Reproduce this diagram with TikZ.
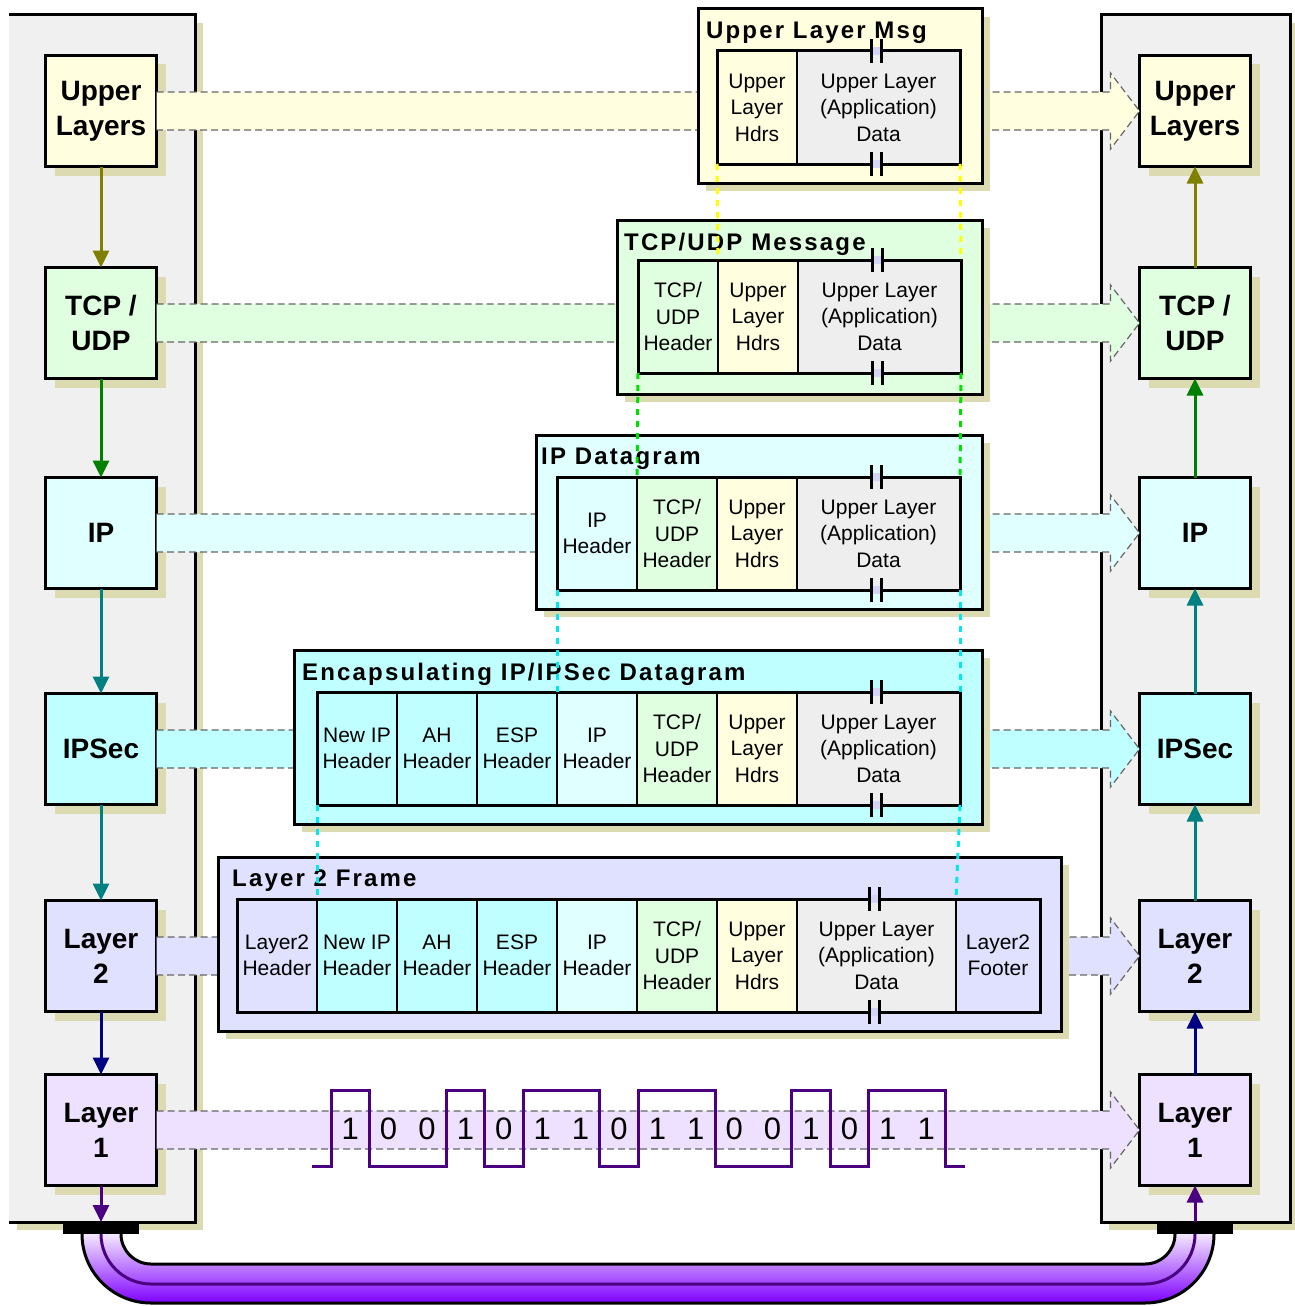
\documentclass[tikz,border=0pt]{standalone}
\usepackage{fontspec}
\setmainfont{Liberation Sans}
\newfontfamily\titlefont{Liberation Sans}[LetterSpace=9]
\usetikzlibrary{shapes,arrows,arrows.meta,shadows,calc}
\usetikzlibrary{positioning}
\definecolor{upc}{HTML}{FFFFE0}
\definecolor{tcpc}{HTML}{E0FFE0}
\definecolor{ipc}{HTML}{E0FFFF}
\definecolor{secc}{HTML}{C0FFFF}
\definecolor{ltwoc}{HTML}{E0E0FF}
\definecolor{lonec}{HTML}{EEE0FF}
\definecolor{datac}{HTML}{EEEEEE}
\definecolor{panelc}{HTML}{F0F0F0}
\definecolor{shadowc}{HTML}{DCDAB0}
\definecolor{olivec}{HTML}{808000}
\definecolor{greenc}{HTML}{008000}
\definecolor{tealc}{HTML}{008080}
\definecolor{navyc}{HTML}{000080}
\definecolor{indigoc}{HTML}{4B0082}
\definecolor{brkc}{HTML}{D4D4F4}
\definecolor{ldgreen}{HTML}{00E000}
\definecolor{ldcyan}{HTML}{00E8F0}
\definecolor{ldyellow}{HTML}{FFFF00}
\definecolor{cabtop}{HTML}{F4E8FF}
\definecolor{cabmid}{HTML}{A040FF}
\definecolor{cabbot}{HTML}{7F00FF}
\tikzstyle{layer}=[draw, line width=3pt, outer sep=0pt, inner sep=0pt,
minimum width=111, minimum height=111, align=center,
font=\bfseries\fontsize{28}{35}\selectfont,
drop shadow={shadow xshift=9pt, shadow yshift=-9pt, fill=shadowc, opacity=1}]
\tikzstyle{pdu}=[draw, line width=3pt, outer sep=0pt, anchor=north west,
minimum height=174,
drop shadow={shadow xshift=8pt, shadow yshift=-8pt, fill=shadowc, opacity=1}]
\tikzstyle{pdutitle}=[anchor=west, inner sep=0pt,
font=\titlefont\bfseries\fontsize{24}{28}\selectfont]
\tikzstyle{cell}=[draw, line width=1.2pt, outer sep=0pt, inner sep=0pt,
minimum width=80, minimum height=113, align=center,
font=\fontsize{21}{26.5}\selectfont]
\tikzstyle{pduframe}=[line width=3pt]
\tikzstyle{band}=[draw=black!60, dash pattern=on 7pt off 4pt, line width=1.2pt]
\tikzstyle{stackarrow}=[->, >={Triangle[length=17pt,width=16pt]}, line width=3pt]
\tikzstyle{brk}=[line width=3pt]
\tikzstyle{leader}=[line width=3pt, dash pattern=on 6pt off 6pt]
\tikzstyle{wave}=[draw=indigoc, line width=3pt]
\tikzstyle{bitlabel}=[inner sep=0pt, font=\fontsize{31}{36}\selectfont]
\tikzstyle{plug}=[fill=black, inner sep=0pt, outer sep=0pt, minimum width=76,
minimum height=12, anchor=north]

\begin{document}
\begin{tikzpicture}[x=1pt, y=-1pt]
    \useasboundingbox (0,0) rectangle (1294,1306);

    \fill[shadowc] (17,23) rectangle (203,1230);
    \fill[panelc] (9,15) rectangle (195,1222);
    \draw[line width=3pt] (9,15) -- (195,15) -- (195,1222) -- (9,1222);
    \fill[shadowc] (1109,23) rectangle (1298,1230);
    \filldraw[fill=panelc, line width=3pt] (1101,15) rectangle (1290,1222);

    \foreach \s/\x in {l/101, r/1195} {
        \node[layer, fill=upc] (\s-upper) at (\x,111) {Upper\\Layers};
        \node[layer, fill=tcpc, below=101pt of \s-upper] (\s-tcp) {TCP /\\UDP};
        \node[layer, fill=ipc, below=99pt of \s-tcp] (\s-ip) {IP};
        \node[layer, fill=secc, below=105pt of \s-ip] (\s-sec) {IPSec};
        \node[layer, fill=ltwoc, below=96pt of \s-sec] (\s-ltwo) {Layer\\2};
        \node[layer, fill=lonec, below=63pt of \s-ltwo] (\s-lone) {Layer\\1};
        \node[plug] (\s-plug) at (\x,1222) {};
    }

    \foreach \n/\col in {upper/upc, tcp/tcpc, ip/ipc, sec/secc, ltwo/ltwoc, lone/lonec} {
        \filldraw[band, fill=\col] ($(l-\n.east)+(0,-19)$) -- ($(r-\n.west)+(-29,-19)$)
            -- ++(0,-19) -- (r-\n.west) -- ($(r-\n.west)+(-29,38)$) -- ++(0,-19)
            -- ($(l-\n.east)+(0,19)$);
    }

    % upper layer message
    \node[pdu, fill=upc, minimum width=284] (msg) at (698,9) {};
    \node[pdutitle] (msg-title) at ($(msg.north west)+(8,24)$) {Upper Layer Msg};
    \node[cell, fill=upc, anchor=north west] (msg-hdr) at (717,51) {Upper\\Layer\\Hdrs};
    \node[cell, fill=datac, minimum width=163, right=0pt of msg-hdr] (msg-data) {Upper Layer\\(Application)\\Data};
    \draw[pduframe] (msg-hdr.north west) rectangle (msg-data.south east);

    % tcp/udp message
    \node[pdu, fill=tcpc, minimum width=365] (seg) at (617,220) {};
    \node[pdutitle] (seg-title) at ($(seg.north west)+(7,24)$) {TCP/UDP Message};
    \node[cell, fill=tcpc, anchor=north west] (seg-tcp) at (638,260) {TCP/\\UDP\\Header};
    \node[cell, fill=upc, right=0pt of seg-tcp] (seg-hdr) {Upper\\Layer\\Hdrs};
    \node[cell, fill=datac, minimum width=163, right=0pt of seg-hdr] (seg-data) {Upper Layer\\(Application)\\Data};
    \draw[pduframe] (seg-tcp.north west) rectangle (seg-data.south east);

    % ip datagram
    \node[pdu, fill=ipc, minimum width=446] (dgram) at (536,435) {};
    \node[pdutitle] (dgram-title) at ($(dgram.north west)+(5,24)$) {IP Datagram};
    \node[cell, fill=ipc, anchor=north west] (dgram-ip) at (557,477) {IP\\Header};
    \node[cell, fill=tcpc, right=0pt of dgram-ip] (dgram-tcp) {TCP/\\UDP\\Header};
    \node[cell, fill=upc, right=0pt of dgram-tcp] (dgram-hdr) {Upper\\Layer\\Hdrs};
    \node[cell, fill=datac, minimum width=163, right=0pt of dgram-hdr] (dgram-data) {Upper Layer\\(Application)\\Data};
    \draw[pduframe] (dgram-ip.north west) rectangle (dgram-data.south east);

    % encapsulating datagram
    \node[pdu, fill=secc, minimum width=688] (encap) at (294,650) {};
    \node[pdutitle] (encap-title) at ($(encap.north west)+(8,24)$) {Encapsulating IP/IPSec Datagram};
    \node[cell, fill=secc, anchor=north west] (encap-new) at (317,692) {New IP\\Header};
    \node[cell, fill=secc, right=0pt of encap-new] (encap-ah) {AH\\Header};
    \node[cell, fill=secc, right=0pt of encap-ah] (encap-esp) {ESP\\Header};
    \node[cell, fill=ipc, right=0pt of encap-esp] (encap-ip) {IP\\Header};
    \node[cell, fill=tcpc, right=0pt of encap-ip] (encap-tcp) {TCP/\\UDP\\Header};
    \node[cell, fill=upc, right=0pt of encap-tcp] (encap-hdr) {Upper\\Layer\\Hdrs};
    \node[cell, fill=datac, minimum width=163, right=0pt of encap-hdr] (encap-data) {Upper Layer\\(Application)\\Data};
    \draw[pduframe] (encap-new.north west) rectangle (encap-data.south east);

    % layer 2 frame
    \node[pdu, fill=ltwoc, minimum width=843] (frame) at (218,857) {};
    \node[pdutitle] (frame-title) at ($(frame.north west)+(14,24)$) {Layer 2 Frame};
    \node[cell, fill=ltwoc, anchor=north west] (frame-lhdr) at (237,899) {Layer2\\Header};
    \node[cell, fill=secc, right=0pt of frame-lhdr] (frame-new) {New IP\\Header};
    \node[cell, fill=secc, right=0pt of frame-new] (frame-ah) {AH\\Header};
    \node[cell, fill=secc, right=0pt of frame-ah] (frame-esp) {ESP\\Header};
    \node[cell, fill=ipc, right=0pt of frame-esp] (frame-ip) {IP\\Header};
    \node[cell, fill=tcpc, right=0pt of frame-ip] (frame-tcp) {TCP/\\UDP\\Header};
    \node[cell, fill=upc, right=0pt of frame-tcp] (frame-hdr) {Upper\\Layer\\Hdrs};
    \node[cell, fill=datac, minimum width=159, right=0pt of frame-hdr] (frame-data) {Upper Layer\\(Application)\\Data};
    \node[cell, fill=ltwoc, minimum width=84, right=0pt of frame-data] (frame-lftr) {Layer2\\Footer};
    \draw[pduframe] (frame-lhdr.north west) rectangle (frame-lftr.south east);

    \foreach \d in {msg-data, seg-data, dgram-data, encap-data, frame-data} {
        \foreach \a in {north, south} {
            \fill[brkc] ($(\d.\a)+(-7,-4)$) rectangle ($(\d.\a)+(3,4)$);
            \draw[brk] ($(\d.\a)+(-7,-12)$) -- ++(0,24) ($(\d.\a)+(3,-12)$) -- ++(0,24);
        }
    }

    \draw[leader, ldyellow] (msg-hdr.south west) -- (seg-hdr.north west);
    \draw[leader, ldyellow] (msg-data.south east) -- (seg-data.north east);
    \draw[leader, ldgreen] (seg-tcp.south west) -- (dgram-tcp.north west);
    \draw[leader, ldgreen] (seg-data.south east) -- (dgram-data.north east);
    \draw[leader, ldcyan] (dgram-ip.south west) -- (encap-ip.north west);
    \draw[leader, ldcyan] (dgram-data.south east) -- (encap-data.north east);
    \draw[leader, ldcyan] (encap-new.south west) -- (frame-new.north west);
    \draw[leader, ldcyan] (encap-data.south east) -- (frame-data.north east);

    % bits on the wire
    \draw[wave] (312,1166) -| (331,1090) -| (369.4,1166) -| (446.2,1090) -| (484.6,1166)
        -| (523,1090) -| (599.8,1166) -| (638.2,1090) -| (715,1166) -| (791.8,1090)
        -| (830.2,1166) -| (868.6,1090) -| (945.4,1166) -- (965,1166);
    \foreach \bitval [count=\i from 0] in {1,0,0,1,0,1,1,0,1,1,0,0,1,0,1,1}
        \node[bitlabel] (bit\i) at (350.2+38.4*\i,1129) {\bitval};

    \draw[stackarrow, olivec] (l-upper) -- (l-tcp);
    \draw[stackarrow, greenc] (l-tcp) -- (l-ip);
    \draw[stackarrow, tealc] (l-ip) -- (l-sec);
    \draw[stackarrow, tealc] (l-sec) -- (l-ltwo);
    \draw[stackarrow, navyc] (l-ltwo) -- (l-lone);
    \draw[stackarrow, indigoc] (l-lone) -- (l-plug);

    \draw[stackarrow, olivec] (r-tcp) -- (r-upper);
    \draw[stackarrow, greenc] (r-ip) -- (r-tcp);
    \draw[stackarrow, tealc] (r-sec) -- (r-ip);
    \draw[stackarrow, tealc] (r-ltwo) -- (r-sec);
    \draw[stackarrow, navyc] (r-lone) -- (r-ltwo);
    \draw[stackarrow, indigoc] (r-plug) -- (r-lone);

    % cable
    \coordinate (cl) at ($(l-plug.south)+(50,0)$);
    \coordinate (cr) at ($(r-plug.south)+(-50,0)$);
    \shade[top color=cabtop, bottom color=cabmid] ($(cl)+(-30,0)$) arc[start angle=180, end angle=90, radius=30]
        -- ($(cr)+(0,30)$) arc[start angle=90, end angle=0, radius=30]
        -- ($(cr)+(50,0)$) arc[start angle=0, end angle=90, radius=50]
        -- ($(cl)+(0,50)$) arc[start angle=90, end angle=180, radius=50] -- cycle;
    \shade[top color=cabtop, bottom color=cabbot] ($(cl)+(-50,0)$) arc[start angle=180, end angle=90, radius=50]
        -- ($(cr)+(0,50)$) arc[start angle=90, end angle=0, radius=50]
        -- ($(cr)+(69,0)$) arc[start angle=0, end angle=90, radius=69]
        -- ($(cl)+(0,69)$) arc[start angle=90, end angle=180, radius=69] -- cycle;
    \draw[line width=3pt] ($(cl)+(-30,0)$) arc[start angle=180, end angle=90, radius=30]
        -- ($(cr)+(0,30)$) arc[start angle=90, end angle=0, radius=30];
    \draw[line width=3pt, indigoc] ($(cl)+(-50,0)$) arc[start angle=180, end angle=90, radius=50]
        -- ($(cr)+(0,50)$) arc[start angle=90, end angle=0, radius=50];
    \draw[line width=3pt] ($(cl)+(-69,0)$) arc[start angle=180, end angle=90, radius=69]
        -- ($(cr)+(0,69)$) arc[start angle=90, end angle=0, radius=69];
    \node[plug] (l-plug) at (101,1222) {};
    \node[plug] (r-plug) at (1195,1222) {};

\end{tikzpicture}
\end{document}
